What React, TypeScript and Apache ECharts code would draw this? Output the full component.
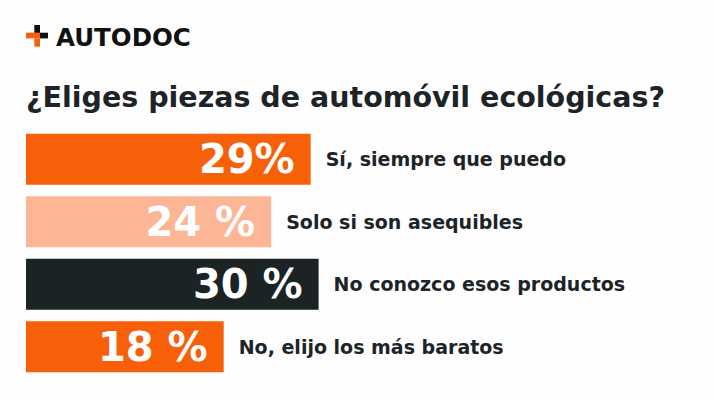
import React, { useEffect, useRef } from "react";
import * as echarts from "echarts";

const categories = [
  "Sí, siempre que puedo",
  "Solo si son asequibles",
  "No conozco esos productos",
  "No, elijo los más baratos",
];
const values = [29, 24, 30, 18];
const pctLabels = ["29%", "24 %", "30 %", "18 %"];
const barColors = ["#f85f09", "#fcb695", "#1b2325", "#f85f09"];

const FONT = "'DejaVu Sans', sans-serif";
const DARK = "#1c2427";

export default function App() {
  const ref = useRef<HTMLDivElement>(null);
  useEffect(() => {
    document.body.style.margin = "0";
    document.body.style.overflow = "hidden";
    const chart = echarts.init(ref.current!, undefined, { renderer: "svg" });
    const k = 7.93;
    const minV = -7;
    const maxV = 80;
    chart.setOption({
      animation: false,
      backgroundColor: "#fefefe",
      grid: { left: 26, width: (maxV - minV) * k, top: 128, height: 250 },
      xAxis: { type: "value", min: minV, max: maxV, startValue: minV, show: false },
      yAxis: { type: "category", data: categories, inverse: true, show: false },
      graphic: [
        { type: "rect", shape: { x: 34.3, y: 25, width: 5.7, height: 8 }, style: { fill: "#111" } },
        { type: "rect", shape: { x: 40, y: 32.7, width: 8, height: 5.7 }, style: { fill: "#111" } },
        { type: "rect", shape: { x: 26, y: 32.7, width: 14, height: 5.7 }, style: { fill: "#f85f09" } },
        { type: "rect", shape: { x: 34.3, y: 38.4, width: 5.7, height: 8.3 }, style: { fill: "#f85f09" } },
        {
          type: "text", x: 56, y: 37.5,
          style: { text: "AUTODOC", fill: "#111", font: `bold 24.5px ${FONT}`, verticalAlign: "middle" },
        },
        {
          type: "text", x: 26, y: 97.5,
          style: { text: "¿Eliges piezas de automóvil ecológicas?", fill: DARK, font: `bold 28.5px ${FONT}`, verticalAlign: "middle" },
        },
      ],
      series: [
        {
          type: "bar",
          barWidth: 51,
          data: values.map((v, i) => ({ value: v, itemStyle: { color: barColors[i] } })),
          label: {
            show: true,
            position: "insideRight",
            distance: 16,
            formatter: (p: any) => pctLabels[p.dataIndex],
            color: "#fff",
            fontFamily: FONT,
            fontWeight: "bold",
            fontSize: 40,
          },
          silent: true,
          z: 2,
        },
        {
          type: "bar",
          barWidth: 51,
          barGap: "-100%",
          data: values,
          itemStyle: { color: "transparent" },
          label: {
            show: true,
            position: "right",
            distance: 15,
            formatter: (p: any) => p.name,
            color: DARK,
            fontFamily: FONT,
            fontWeight: "bold",
            fontSize: 19,
          },
          silent: true,
          z: 1,
        },
      ],
    });
    return () => chart.dispose();
  }, []);
  return <div ref={ref} style={{ width: 714, height: 399 }} />;
}
